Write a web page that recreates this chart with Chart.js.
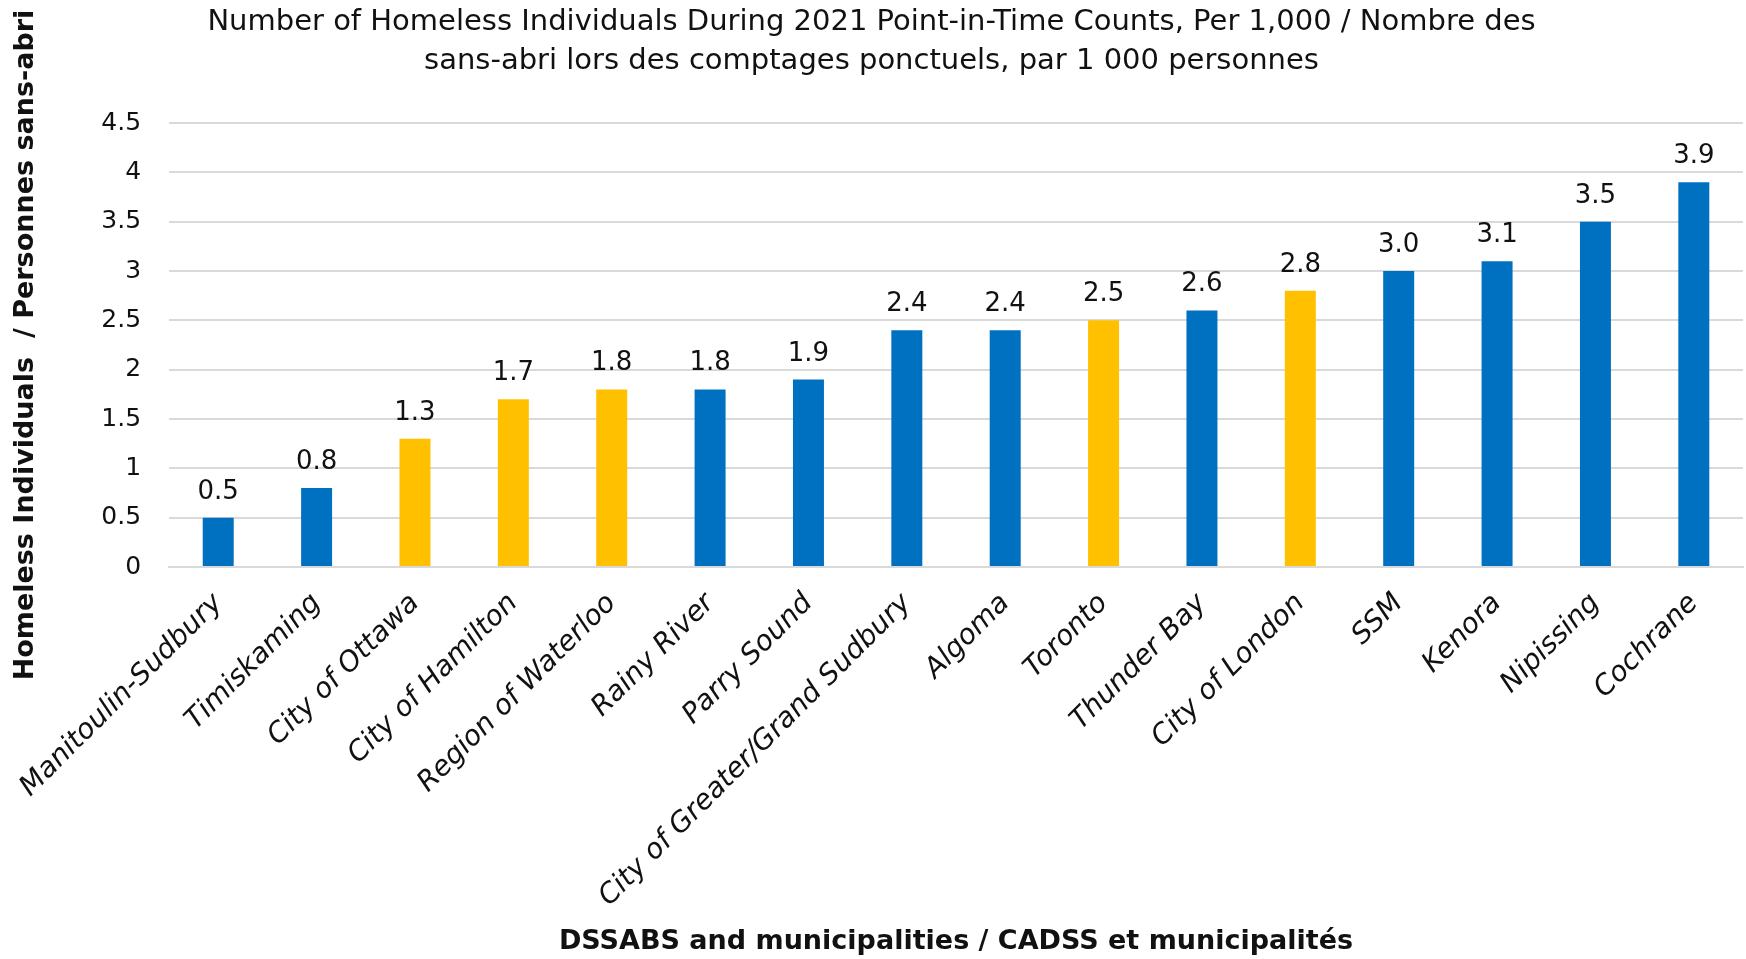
<!DOCTYPE html>
<html>
<head>
<meta charset="utf-8">
<script src="https://cdn.jsdelivr.net/npm/chart.js@4"></script>
<style>
  html, body { margin: 0; padding: 0; background: #fff; }
  #wrap { width: 1746px; height: 959px; }
</style>
</head>
<body>
<div id="wrap"><canvas id="chart"></canvas></div>
<script>
const regions = [
  'Manitoulin-Sudbury', 'Timiskaming', 'City of Ottawa', 'City of Hamilton',
  'Region of Waterloo', 'Rainy River', 'Parry Sound', 'City of Greater/Grand Sudbury',
  'Algoma', 'Toronto', 'Thunder Bay', 'City of London', 'SSM', 'Kenora',
  'Nipissing', 'Cochrane'
];
const homelessPer1000 = [0.5, 0.8, 1.3, 1.7, 1.8, 1.8, 1.9, 2.4, 2.4, 2.5, 2.6, 2.8, 3.0, 3.1, 3.5, 3.9];
// municipality = yellow, DSSAB = blue
const regionType = [
  'dssab', 'dssab', 'municipality', 'municipality', 'municipality', 'dssab', 'dssab', 'dssab',
  'dssab', 'municipality', 'dssab', 'municipality', 'dssab', 'dssab', 'dssab', 'dssab'
];
const yTicks = [0, 0.5, 1, 1.5, 2, 2.5, 3, 3.5, 4, 4.5];
const yTickLabels = ['0', '0.5', '1', '1.5', '2', '2.5', '3', '3.5', '4', '4.5'];
const chartTitle = [
  'Number of Homeless Individuals During 2021 Point-in-Time Counts, Per 1,000 / Nombre des',
  'sans-abri lors des comptages ponctuels, par 1 000 personnes'
];
const xTitle = 'DSSABS and municipalities / CADSS et municipalités';
const yTitle = 'Homeless Individuals  / Personnes sans-abri';

const typeColors = { dssab: '#0070C0', municipality: '#FFC000' };
const fontFamily = '"DejaVu Sans", sans-serif';

const barLabels = {
  id: 'barLabels',
  afterDatasetsDraw(chart) {
    let ctx = chart.ctx,
        meta = chart.getDatasetMeta(0);
    ctx.save();
    ctx.font = '26px ' + fontFamily;
    ctx.fillStyle = '#111';
    ctx.textAlign = 'center';
    ctx.textBaseline = 'alphabetic';
    meta.data.forEach((bar, i) => {
      ctx.fillText(homelessPer1000[i].toFixed(1), bar.x, bar.y - 19);
    });
    ctx.restore();
  }
};

new Chart(document.getElementById('chart'), {
  type: 'bar',
  data: {
    labels: regions,
    datasets: [{
      data: homelessPer1000,
      backgroundColor: regionType.map(t => typeColors[t]),
      barPercentage: 0.315,
      categoryPercentage: 1
    }]
  },
  options: {
    responsive: true,
    maintainAspectRatio: false,
    animation: false,
    layout: { padding: { left: 0, right: 3, top: 0, bottom: 0 } },
    plugins: {
      legend: { display: false },
      tooltip: { enabled: false },
      title: {
        display: true,
        text: chartTitle,
        color: '#111',
        font: { family: fontFamily, size: 29, weight: 'normal', lineHeight: 1.345 },
        padding: { top: 3, bottom: 42 }
      }
    },
    scales: {
      x: {
        grid: { display: false, drawTicks: false },
        border: { color: '#D9D9D9', width: 2 },
        ticks: {
          color: '#111',
          font: { family: fontFamily, size: 28, style: 'italic' },
          minRotation: 45,
          maxRotation: 45,
          autoSkip: false,
          padding: 20
        },
        title: {
          display: true,
          text: xTitle,
          color: '#111',
          font: { family: fontFamily, size: 27, weight: 'bold' },
          padding: { top: 0, bottom: 1 }
        },
        afterFit(scale) { scale.height = 392; }
      },
      y: {
        min: 0,
        max: 4.5,
        afterBuildTicks(scale) { scale.ticks = yTicks.map(v => ({ value: v })); },
        grid: { color: '#D9D9D9', lineWidth: 2, drawTicks: false },
        border: { display: false },
        ticks: {
          color: '#111',
          font: { family: fontFamily, size: 25 },
          padding: 28,
          callback: (v, i) => yTickLabels[i]
        },
        title: {
          display: true,
          text: yTitle,
          color: '#111',
          font: { family: fontFamily, size: 27, weight: 'bold' },
          padding: { top: 7, bottom: 0 }
        },
        afterFit(scale) { scale.width = 166; }
      }
    }
  },
  plugins: [barLabels]
});
</script>
</body>
</html>
